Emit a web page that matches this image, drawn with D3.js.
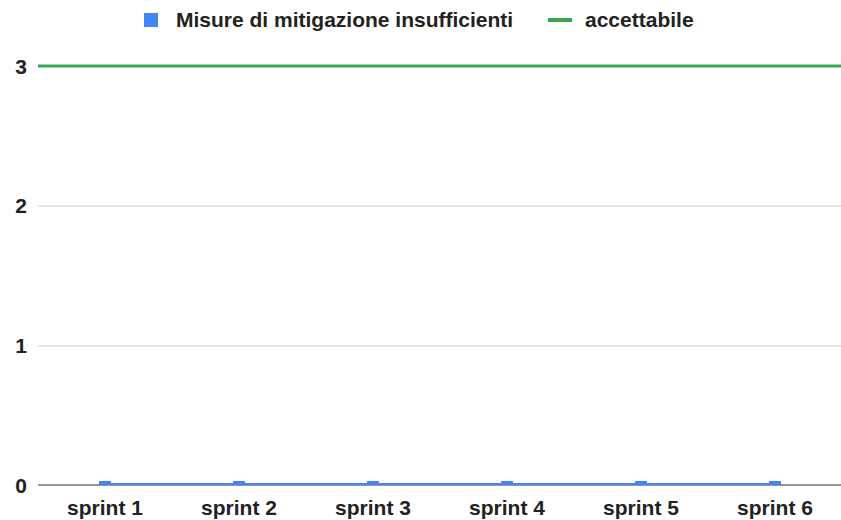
<!DOCTYPE html>
<html>
<head>
<meta charset="utf-8">
<script src="https://cdn.jsdelivr.net/npm/d3@7"></script>
<style>
  body { margin: 0; background: #fff; }
  svg text { font-family: "Liberation Sans", Arial, sans-serif; font-weight: bold; fill: #222; }
</style>
</head>
<body>
<svg width="841" height="520"></svg>
<script>
// chart data
const categories = ["sprint 1", "sprint 2", "sprint 3", "sprint 4", "sprint 5", "sprint 6"];
const misure = [0, 0, 0, 0, 0, 0];
const accettabile = [3, 3, 3, 3, 3, 3];
const yTicks = [0, 1, 2, 3];
const seriesNames = ["Misure di mitigazione insufficienti", "accettabile"];

const svg = d3.select("svg");
const margin = {top: 66, right: -1, bottom: 35, left: 38};
const width = +svg.attr("width") - margin.left - margin.right;
const height = +svg.attr("height") - margin.top - margin.bottom;

const x = d3.scaleBand().domain(categories).range([margin.left, margin.left + width]);
const y = d3.scaleLinear().domain([0, 3]).range([margin.top + height, margin.top]);

// gridlines
svg.append("g").selectAll("line")
  .data(yTicks.filter(d => d > 0))
  .enter().append("line")
  .attr("x1", margin.left).attr("x2", 841)
  .attr("y1", d => y(d) + 0.5).attr("y2", d => y(d) + 0.5)
  .attr("stroke", "#cccccc").attr("stroke-width", 1);

// y labels
svg.append("g").selectAll("text")
  .data(yTicks)
  .enter().append("text")
  .attr("x", 27).attr("y", d => y(d))
  .attr("dy", "0.36em")
  .attr("text-anchor", "end")
  .style("font-size", "21px")
  .text(d => d);

// baseline
svg.append("line")
  .attr("x1", margin.left).attr("x2", 841)
  .attr("y1", y(0)).attr("y2", y(0))
  .attr("stroke", "#333").attr("stroke-width", 1);

// blue line along zero for series 1
const barW = 12;
svg.append("line")
  .attr("x1", x(categories[0]) + x.bandwidth() / 2 - barW / 2)
  .attr("x2", x(categories[categories.length - 1]) + x.bandwidth() / 2 + barW / 2)
  .attr("y1", y(0) - 1).attr("y2", y(0) - 1)
  .attr("stroke", "#4285f4").attr("stroke-width", 2);

// bars (zero height shown as small stubs)
svg.append("g").selectAll("rect")
  .data(misure)
  .enter().append("rect")
  .attr("x", (d, i) => x(categories[i]) + x.bandwidth() / 2 - barW / 2)
  .attr("y", d => y(d) - 4)
  .attr("width", barW)
  .attr("height", d => Math.max(4, y(0) - y(d) + 4))
  .attr("fill", "#4285f4");

// accettabile line
const line = d3.line()
  .x((d, i) => i === 0 ? margin.left : (i === accettabile.length - 1 ? 841 : x(categories[i]) + x.bandwidth() / 2))
  .y(d => y(d));
svg.append("path")
  .datum(accettabile)
  .attr("d", line)
  .attr("fill", "none")
  .attr("stroke", "#34a853")
  .attr("stroke-width", 3);

// x labels
svg.append("g").selectAll("text")
  .data(categories)
  .enter().append("text")
  .attr("x", d => x(d) + x.bandwidth() / 2)
  .attr("y", 515)
  .attr("text-anchor", "middle")
  .style("font-size", "21px")
  .text(d => d);

// legend
const legend = svg.append("g");
legend.append("rect")
  .attr("x", 144).attr("y", 13).attr("width", 14).attr("height", 14)
  .attr("fill", "#4285f4");
legend.append("text")
  .attr("x", 176).attr("y", 27)
  .style("font-size", "21px")
  .text(seriesNames[0]);
legend.append("line")
  .attr("x1", 548).attr("x2", 572).attr("y1", 20).attr("y2", 20)
  .attr("stroke", "#34a853").attr("stroke-width", 4);
legend.append("text")
  .attr("x", 585).attr("y", 27)
  .style("font-size", "21px")
  .text(seriesNames[1]);
</script>
</body>
</html>
